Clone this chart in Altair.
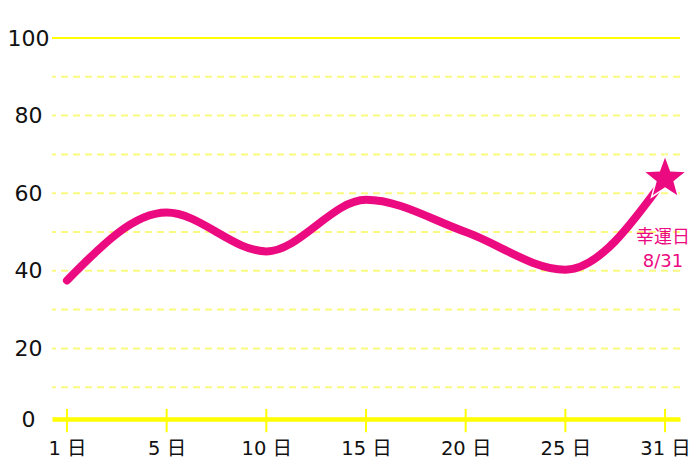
import altair as alt
import pandas as pd
import numpy as np

# ---- data ----
days = ["1 日", "5 日", "10 日", "15 日", "20 日", "25 日", "31 日"]
values = [37.5, 55, 45, 58.3, 50, 40.3, 63.8]
grid_dashed = [10, 20, 30, 40, 50, 60, 70, 80, 90]
grid_solid = [100]
y_ticks = [0, 20, 40, 60, 80, 100]
note_lines = ["幸運日", "8/31"]
note_y = [48.5, 42.3]

PINK = "#ec0a80"
YELLOW = "#ffff00"
PALE = "#fafa80"
FONT = "DejaVu Sans, Noto Sans CJK JP"

# five-pointed star symbol path in [-1, 1] box
pts = []
for k in range(10):
    r = 1.0 if k % 2 == 0 else 0.42
    a = -np.pi / 2 + k * np.pi / 5
    pts.append(f"{r*np.cos(a):.3f},{r*np.sin(a):.3f}")
STAR = "M" + "L".join(pts) + "Z"

df = pd.DataFrame({"day": days, "value": values})
last = df.tail(1)
notes = pd.DataFrame({"t": note_lines, "y": note_y, "day": [days[-1]] * len(note_lines)})

xscale = alt.Scale(type="point", padding=0.15, domain=days)
yscale = alt.Scale(domain=[0, 100], nice=False, zero=True)

x_axis = alt.Axis(
    title=None, domainColor=YELLOW, domainWidth=4.5, offset=-7,
    ticks=False, tickSize=0, labelFont=FONT, labelFontSize=19.5, labelAngle=0,
    labelColor="#111111", labelPadding=20, labelBaseline="top", grid=False,
    labelAlign="center",
)
y_axis = alt.Axis(
    title=None, values=y_ticks, domain=False, ticks=False, tickSize=0,
    grid=False, labelFont=FONT, labelFontSize=22, labelColor="#111111",
    labelAlign="center", labelPadding=24, labelBaseline="middle",
    labelOffset={"condition": {"test": "datum.value === 0", "value": -7}, "value": 0},
)

X = alt.X("day:N", scale=xscale, sort=days, axis=x_axis)


def Y(field):
    return alt.Y(field, scale=yscale, axis=y_axis)


grid_d = alt.Chart(pd.DataFrame({"v": grid_dashed})).mark_rule(
    color=PALE, strokeWidth=2, strokeDash=[7, 5]
).encode(y=Y("v:Q"))

grid_s = alt.Chart(pd.DataFrame({"v": grid_solid})).mark_rule(
    color=YELLOW, strokeWidth=2
).encode(y=Y("v:Q"))

ticks = alt.Chart(df).mark_rule(color=YELLOW, strokeWidth=2).encode(
    x=X,
    y=alt.Y(datum=4.4, scale=yscale, axis=y_axis),
    y2=alt.datum(-1.6),
)

line = alt.Chart(df).mark_line(
    color=PINK, strokeWidth=8, interpolate="monotone", strokeCap="round"
).encode(x=X, y=Y("value:Q"))

star = alt.Chart(last).mark_point(
    shape=STAR, size=2100, filled=True, fill=PINK, stroke="white",
    strokeWidth=1.5, opacity=1,
).encode(x=X, y=Y("value:Q"))

text = alt.Chart(notes).mark_text(
    color=PINK, font=FONT, fontSize=18, baseline="middle", align="center", dx=-2
).encode(x=X, y=Y("y:Q"), text="t:N")

chart = alt.layer(grid_d, grid_s, ticks, line, star, text).properties(
    width=628, height=388,
    padding={"left": 44, "top": 30, "right": 12, "bottom": 41},
    autosize=alt.AutoSizeParams(type="none"),
    background="white",
).configure_view(stroke=None)

chart.save("out.html", embed_options={"renderer": "svg", "actions": False})
